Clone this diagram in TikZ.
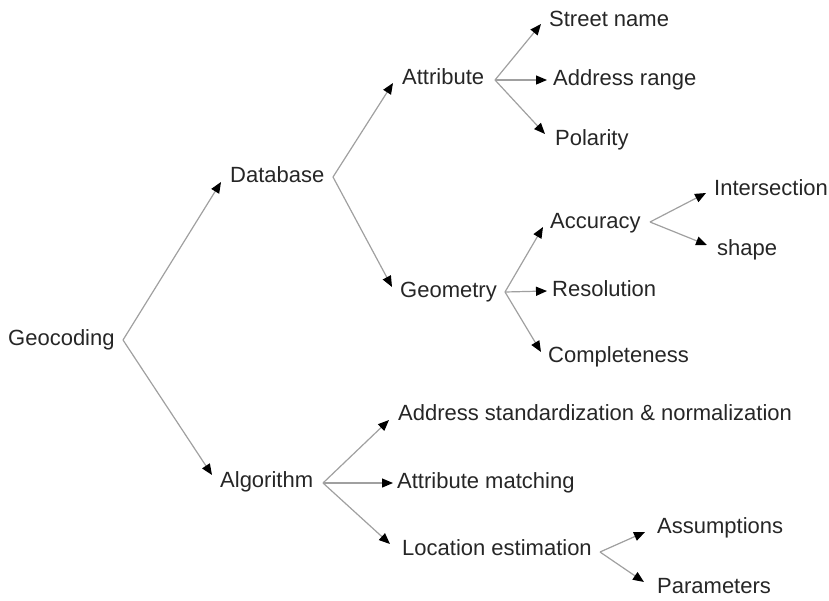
\documentclass[tikz,border=0pt]{standalone}
\usepackage{fontspec}
\setmainfont{Liberation Sans}
\usetikzlibrary{arrows.meta,calc}
\definecolor{txt}{HTML}{262626}
\definecolor{ln}{HTML}{A0A0A0}
\tikzset{
  lbl/.style={anchor=west,inner sep=0pt,text height=15.75pt,text depth=0pt,
    font=\fontsize{22}{26}\selectfont,text=txt},
  edge/.style={draw=ln,line width=1.2pt,
    -{Triangle[color=black,length=11pt,width=9pt]}}
}
\begin{document}
\begin{tikzpicture}[x=1pt,y=-1pt]
\useasboundingbox (0,0) rectangle (829,600);
% nodes
\node[lbl] (geo)  at (8,338) {Geocoding};
\node[lbl] (db)   at (230,175) {Database};
\node[lbl] (alg)  at (220,480) {Algorithm};
\node[lbl] (att)  at (402,77) {Attribute};
\node[lbl] (geom) at (400,290) {Geometry};
\node[lbl] (str)  at (549,19) {Street name};
\node[lbl] (adr)  at (553,78) {Address range};
\node[lbl] (pol)  at (555,138) {Polarity};
\node[lbl] (acc)  at (550,221) {Accuracy};
\node[lbl] (res)  at (552,289) {Resolution};
\node[lbl] (com)  at (548,355) {Completeness};
\node[lbl] (int)  at (714,188) {Intersection};
\node[lbl] (shp)  at (717,248) {shape};
\node[lbl] (asn)  at (398,413) {Address standardization \& normalization};
\node[lbl] (atm)  at (397,481) {Attribute matching};
\node[lbl] (loc)  at (402,548) {Location estimation};
\node[lbl] (asm)  at (657,526) {Assumptions};
\node[lbl] (par)  at (657,586) {Parameters};
% branch points
\coordinate (geoV)  at (123,340);
\coordinate (dbV)   at (333,177);
\coordinate (algV)  at (323,483);
\coordinate (attV)  at (495,80);
\coordinate (geomV) at (505,292);
\coordinate (accV)  at (650,222);
\coordinate (locV)  at (600,552);
% connectors
\draw[edge] (geoV) -- ($(db.west)+(-9,7)$);
\draw[edge] (geoV) -- ($(alg.west)+(-8,-5)$);
\draw[edge] (dbV) -- ($(att.west)+(-9,6)$);
\draw[edge] (dbV) -- ($(geom.west)+(-8,-3)$);
\draw[edge] (attV) -- ($(str.west)+(-8,5)$);
\draw[edge] (attV) -- ($(adr.west)+(-6,2)$);
\draw[edge] (attV) -- ($(pol.west)+(-10,-4)$);
\draw[edge] (geomV) -- ($(acc.west)+(-7,6)$);
\draw[edge] (geomV) -- ($(res.west)+(-5,2)$);
\draw[edge] (geomV) -- ($(com.west)+(-7,-3)$);
\draw[edge] (accV) -- ($(int.west)+(-8,5)$);
\draw[edge] (accV) -- ($(shp.west)+(-10,-3)$);
\draw[edge] (algV) -- ($(asn.west)+(-9,7)$);
\draw[edge] (algV) -- ($(atm.west)+(-4,2)$);
\draw[edge] (algV) -- ($(loc.west)+(-12,-4)$);
\draw[edge] (locV) -- ($(asm.west)+(-12,6)$);
\draw[edge] (locV) -- ($(par.west)+(-13,-4)$);
\end{tikzpicture}
\end{document}
